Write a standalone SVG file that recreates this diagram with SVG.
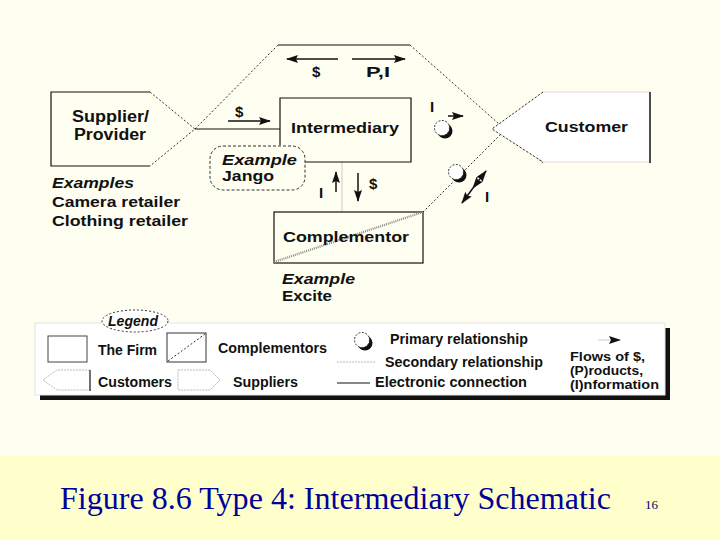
<svg xmlns="http://www.w3.org/2000/svg" xmlns:xlink="http://www.w3.org/1999/xlink" width="720" height="540" viewBox="0 0 720 540">
<style>
.t{font-family:"Liberation Sans",Arial,sans-serif;font-weight:bold;font-size:16px;fill:#111}
.i{font-style:italic}
.s{font-size:15px}
.g{font-size:14px}
.f{font-size:12px}
.ln{stroke:#111;stroke-width:1.2;fill:none}
.dt{stroke:#333;stroke-width:1;stroke-dasharray:2 2;fill:none}
.fa{stroke:#111;stroke-width:1.5;fill:none;marker-end:url(#ah)}
</style>
<defs>
<marker id="ah" viewBox="0 0 12 8" refX="11" refY="4" markerWidth="12" markerHeight="8" orient="auto-start-reverse" markerUnits="userSpaceOnUse">
<path d="M0,0 L12,4 L0,8 L2,4 Z" fill="#111"/>
</marker>
<g id="prim">
<circle cx="3" cy="3" r="7.5" fill="#111"/>
<circle cx="0" cy="0" r="7.5" fill="#fff" stroke="#333" stroke-width="1" stroke-dasharray="2 1.5"/>
</g>
</defs>
<rect x="0" y="0" width="720" height="456" fill="#FEFEF1"/>
<rect x="0" y="456" width="720" height="84" fill="#FFFFCC"/>

<g id="connectors">
<line class="ln" x1="278" y1="45" x2="410" y2="45"/>
<line class="dt" x1="195" y1="129" x2="278" y2="45"/>
<line class="dt" x1="410" y1="45" x2="543" y2="163"/>
<line class="dt" x1="543" y1="92" x2="423" y2="212"/>
<line class="ln" x1="195" y1="129" x2="280" y2="129"/>
<line x1="342" y1="162" x2="342" y2="212" stroke="#ccc" stroke-width="1"/>
<line class="fa" x1="338" y1="59" x2="287" y2="59"/>
<line class="fa" x1="352" y1="59" x2="405" y2="59"/>
<line class="fa" x1="228" y1="121" x2="270" y2="121"/>
<line class="fa" x1="336" y1="192" x2="336" y2="172"/>
<line class="fa" x1="358" y1="173" x2="358" y2="201"/>
<line class="fa" x1="448" y1="116" x2="463" y2="116"/>
<line class="fa" x1="473" y1="188" x2="486" y2="171" style="marker-start:url(#ah)"/>
<line x1="473" y1="188" x2="462" y2="203" class="fa"/>
<use xlink:href="#prim" x="442" y="128"/>
<use xlink:href="#prim" x="456" y="172"/>
<text class="t s" x="312" y="77">$</text>
<text class="t s" x="366" y="77" textLength="24" lengthAdjust="spacingAndGlyphs">P,I</text>
<text class="t s" x="235" y="117">$</text>
<text class="t s" x="319" y="198">I</text>
<text class="t s" x="369" y="189">$</text>
<text class="t s" x="430" y="112">I</text>
<text class="t s" x="485" y="202">I</text>
</g>

<g id="supplier">
<path class="ln" d="M150,92 L51,92 L51,166 L150,166"/>
<path class="dt" d="M150,92 L195,129 L150,166"/>
<text class="t" x="72" y="122" textLength="77" lengthAdjust="spacingAndGlyphs">Supplier/</text>
<text class="t" x="74" y="140" textLength="72" lengthAdjust="spacingAndGlyphs">Provider</text>
</g>

<g id="supplier-examples">
<text class="t i s" x="52" y="188" textLength="82" lengthAdjust="spacingAndGlyphs">Examples</text>
<text class="t s" x="52" y="207" textLength="128" lengthAdjust="spacingAndGlyphs">Camera retailer</text>
<text class="t s" x="52" y="226" textLength="136" lengthAdjust="spacingAndGlyphs">Clothing retailer</text>
</g>

<g id="intermediary">
<path class="ln" d="M280,145 L280,98 L411,98 L411,162 L305,162" fill="#fff"/>
<text class="t s" x="291" y="133" textLength="108" lengthAdjust="spacingAndGlyphs">Intermediary</text>
</g>

<g id="jango">
<rect x="210" y="146" width="95" height="44" rx="13" fill="#FEFEF1" stroke="#333" stroke-width="1" stroke-dasharray="3 2"/>
<text class="t i s" x="222" y="165" textLength="75" lengthAdjust="spacingAndGlyphs">Example</text>
<text class="t s" x="222" y="181" textLength="52" lengthAdjust="spacingAndGlyphs">Jango</text>
</g>

<g id="customer">
<path d="M650,92 L543,92 L492,129 L543,162 L650,162" fill="#fff" stroke="#ddd" stroke-width="1"/>
<path class="dt" d="M543,92 L492,129 L543,162"/>
<line x1="650" y1="92" x2="650" y2="163" stroke="#111" stroke-width="1.5"/>
<text class="t s" x="545" y="132" textLength="83" lengthAdjust="spacingAndGlyphs">Customer</text>
</g>

<g id="complementor">
<rect class="ln" x="274" y="212" width="149" height="51" fill="#fff"/>
<line x1="274" y1="262" x2="423" y2="212" stroke="#888" stroke-width="2.2" stroke-dasharray="1 1"/>
<text class="t s" x="283" y="242" textLength="126" lengthAdjust="spacingAndGlyphs">Complementor</text>
<text class="t i s" x="282" y="284" textLength="73" lengthAdjust="spacingAndGlyphs">Example</text>
<text class="t s" x="282" y="301" textLength="50" lengthAdjust="spacingAndGlyphs">Excite</text>
</g>

<g id="legend">
<rect x="40" y="328" width="630" height="72" fill="#111"/>
<rect x="35" y="323" width="630" height="72" fill="#fff" stroke="#e4e4e4" stroke-width="1"/>
<ellipse cx="135" cy="321" rx="33" ry="11" fill="#fff" stroke="#333" stroke-width="1" stroke-dasharray="2 2"/>
<text class="t i g" x="108" y="326" textLength="50" lengthAdjust="spacingAndGlyphs">Legend</text>
<rect x="48" y="336" width="39" height="26" fill="none" stroke="#444" stroke-width="1"/>
<text class="t g" x="98" y="355" textLength="59" lengthAdjust="spacingAndGlyphs">The Firm</text>
<rect x="167" y="333" width="39" height="29" fill="none" stroke="#333" stroke-width="1"/>
<line x1="168" y1="361" x2="205" y2="334" class="dt"/>
<text class="t g" x="218" y="353" textLength="109" lengthAdjust="spacingAndGlyphs">Complementors</text>
<path d="M90,370 L57,370 L43,380 L57,390 L90,390" fill="none" stroke="#bbb" stroke-width="1" stroke-dasharray="2 1"/>
<line x1="90" y1="370" x2="90" y2="391" stroke="#111" stroke-width="1.2"/>
<text class="t g" x="98" y="387" textLength="74" lengthAdjust="spacingAndGlyphs">Customers</text>
<path d="M178,370 L210,370 L220,380 L210,390 L178,390 Z" fill="none" stroke="#bbb" stroke-width="1" stroke-dasharray="2 1"/>
<text class="t g" x="233" y="387" textLength="65" lengthAdjust="spacingAndGlyphs">Suppliers</text>
<use xlink:href="#prim" x="362" y="340"/>
<text class="t g" x="390" y="344" textLength="138" lengthAdjust="spacingAndGlyphs">Primary relationship</text>
<line x1="337" y1="362" x2="375" y2="362" stroke="#bbb" stroke-width="1" stroke-dasharray="2 1"/>
<text class="t g" x="385" y="367" textLength="158" lengthAdjust="spacingAndGlyphs">Secondary relationship</text>
<line x1="337" y1="383" x2="370" y2="383" stroke="#111" stroke-width="1.2"/>
<text class="t g" x="375" y="387" textLength="152" lengthAdjust="spacingAndGlyphs">Electronic connection</text>
<line class="fa" x1="598" y1="340" x2="620" y2="340" style="stroke:#ddd"/>
<text class="t f" x="570" y="361" textLength="75" lengthAdjust="spacingAndGlyphs">Flows of $,</text>
<text class="t f" x="570" y="375" textLength="73" lengthAdjust="spacingAndGlyphs">(P)roducts,</text>
<text class="t f" x="570" y="389" textLength="89" lengthAdjust="spacingAndGlyphs">(I)nformation</text>
</g>

<g id="caption">
<text x="60" y="509" textLength="551" lengthAdjust="spacingAndGlyphs" font-family="'Liberation Serif','Times New Roman',serif" font-size="31" fill="#000099">Figure 8.6 Type 4: Intermediary Schematic</text>
<text x="645" y="509" font-family="'Liberation Serif','Times New Roman',serif" font-size="13" fill="#000066">16</text>
</g>
</svg>
